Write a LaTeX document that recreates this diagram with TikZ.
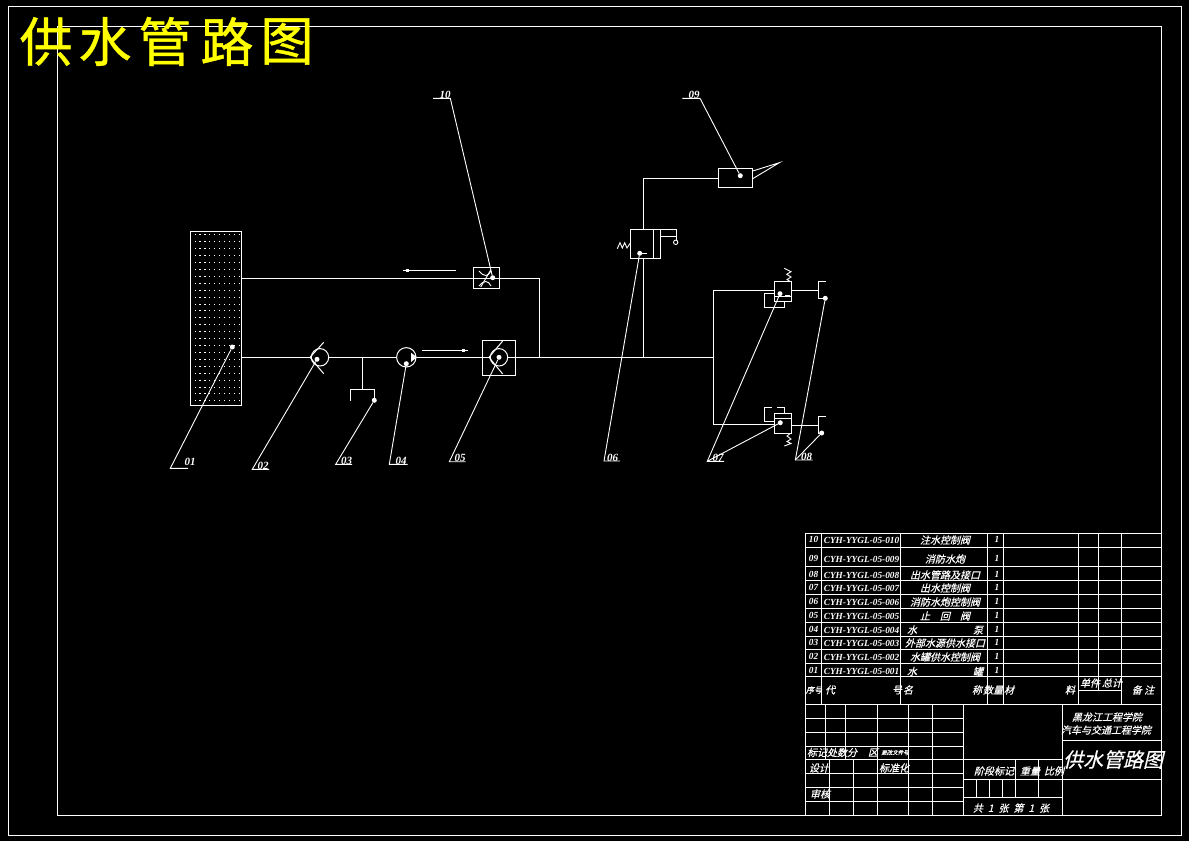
\documentclass[tikz,border=0pt]{standalone}
\usepackage{fontspec}
\setmainfont{Liberation Serif}
\newfontfamily\cjk[FakeBold=0.8]{Noto Sans CJK SC}
\newfontfamily\cjkit[FakeSlant=0.25,FakeBold=0.5]{Noto Sans CJK SC}
\definecolor{cadline}{RGB}{255,255,255}
\definecolor{cadtitle}{RGB}{255,255,0}
\tikzset{
  pipe/.style={draw=cadline, line width=1pt},
  leader/.style={draw=cadline, line width=0.9pt},
  tick/.style={circle, fill=cadline, inner sep=0pt, minimum size=5pt},
  numlabel/.style={text=cadline, font=\fontsize{11}{11}\selectfont\itshape\bfseries, inner sep=0pt, anchor=base},
  cell/.style={text=cadline, font=\cjkit\fontsize{10}{10}\selectfont, inner sep=0pt},
  code/.style={text=cadline, font=\fontsize{9.3}{9.3}\selectfont\itshape\bfseries, inner sep=0pt},
}
\begin{document}
\begin{tikzpicture}[x=1pt,y=-1pt]
\useasboundingbox[fill=black] (0,0) rectangle (1189,841);
% frames
\draw[pipe] (8.3,6) rectangle (1181.3,835);
\draw[pipe] (57.3,26.7) rectangle (1161.7,815.5);
\foreach \c/\x in {供/46,水/105,管/165,路/227,图/287}
  \node[text=cadtitle, font=\cjk\fontsize{53}{53}\selectfont, inner sep=0pt] (title\x) at (\x,41.5) {\c};
% tank
\draw[pipe] (190.3,231.3) rectangle (241.7,405.3);
\foreach \r in {0,...,24}
  \foreach \c in {0,...,9}
    \fill[cadline] ({194.5+4.9*\c},{234.3+6.92*\r}) rectangle +(1.2,1);
% pipes
\coordinate (tank0) at (241.7,357.3);
\coordinate (tank1) at (241.7,278.3);
\coordinate (tee0) at (539.7,278.3);
\coordinate (tee1) at (539.7,357.3);
\coordinate (tee2) at (643.3,357.3);
\coordinate (tee3) at (713.3,357.3);
\coordinate (tee4) at (362.3,357.3);
\draw[pipe] (tank1) -- (tee0) -- (tee1);
% valve 02
\coordinate (cv0) at (310,357.3);
\draw[pipe] (tank0) -- (cv0);
\node[circle, draw=cadline, line width=1pt, inner sep=0pt, minimum size=17.4pt] (cv1) at (320,357.3) {};
\draw[pipe] (323.7,342.3) -- (cv0) -- (323.7,373.7);
% drain 03
\coordinate (drain0) at (362.3,389.3);
\draw[pipe] (cv1) -- (tee4) -- (drain0);
\coordinate (drain1) at (374.3,400.3);
\draw[pipe] (350.3,401) -- (350.3,389.3) -- (374.3,389.3) -- (drain1);
% pump 04
\node[circle, draw=cadline, line width=1pt, inner sep=0pt, minimum size=19.4pt] (pump0) at (406.3,357.3) {};
\draw[pipe] (tee4) -- (pump0);
\fill[cadline] (411,352.7) -- (417,357.3) -- (411,362) -- cycle;
\coordinate (flow0) at (422,350.3);
\coordinate (flow1) at (468,350.3);
\draw[pipe] (flow0) -- (flow1);
\fill[cadline] (462,349) rectangle (465,351.6);
% valve 05
\draw[pipe] (482.3,340.3) rectangle (515.7,375.3);
\coordinate (cv2) at (489,357.3);
\node[circle, draw=cadline, line width=1pt, inner sep=0pt, minimum size=17.4pt] (cv3) at (499,357.3) {};
\draw[pipe] (502.7,341) -- (cv2) -- (502.7,374);
\draw[pipe] (pump0) -- (cv2);
\draw[pipe] (cv3) -- (tee3);
% valve 10
\draw[pipe] (473.3,267.3) rectangle (499.7,288.7);
\draw[leader] (479,271) .. controls (484,277) and (488,277) .. (491,271);
\draw[leader] (479,286) .. controls (484,280) and (488,280) .. (491,286);
\draw[leader] (490.7,270) -- (480.7,287);
\coordinate (flow2) at (456,270.3);
\coordinate (flow3) at (403.3,270.3);
\draw[pipe] (flow2) -- (flow3);
\fill[cadline] (406,269) rectangle (409,271.6);
% valve 06
\draw[pipe] (630.3,229.3) rectangle (660.7,258.7);
\draw[pipe] (653.3,229.3) -- (653.3,258.7);
\draw[pipe] (660.7,229.3) -- (676.7,229.3) -- (676.7,240);
\draw[pipe] (660.7,236.3) -- (676.7,236.3);
\draw[leader] (675.7,242.3) circle (2.2);
\draw[leader] (617.3,248.7) -- (620,242.7) -- (622.3,248) -- (624.7,242.7) -- (627,248) -- (630.3,243);
\draw[leader] (639.7,253.3) -- (646.7,253.3);
\draw[pipe] (643.3,178.3) -- (643.3,229.3);
\draw[pipe] (643.3,258.7) -- (tee2);
% nozzle 09
\draw[pipe] (718.3,168.3) rectangle (752.7,187.7);
\draw[pipe] (718.3,178.3) -- (643.3,178.3);
\draw[leader] (752.7,171) -- (779.3,162.7) -- (752.7,178.7);
% valves 07
\draw[pipe] (713.3,290.3) -- (713.3,424.3);
\draw[pipe] (713.3,290.3) -- (774.3,290.3);
\draw[pipe] (713.3,424.3) -- (774.3,424.3);
\draw[pipe] (774.3,281.3) rectangle (791.7,301.3);
\draw[pipe] (774.3,296.3) -- (791.7,296.3);
\draw[pipe] (774.3,293.3) -- (764.3,293.3) -- (764.3,307.3) -- (784.7,307.3) -- (784.7,301.3);
\draw[leader] (784.3,268.3) -- (791,271.7) -- (786.7,274.3) -- (791,277) -- (787,279.7) -- (790,281.3);
\draw[leader] (785,295) -- (790,295);
\draw[pipe] (774.3,413.3) rectangle (791.7,433.7);
\draw[pipe] (774.3,418.7) -- (791.7,418.7);
\draw[pipe] (774.3,421.7) -- (764.3,421.7) -- (764.3,407) -- (772,407);
\draw[pipe] (777.3,407) -- (784.7,407) -- (784.7,413.3);
\draw[leader] (790,433.7) -- (787,436) -- (791,439) -- (787,441.5) -- (791,443.5) -- (784.3,446);
% outlets 08
\draw[pipe] (791.7,290.3) -- (818.3,290.3);
\draw[pipe] (826,281.3) -- (818.3,281.3) -- (818.3,298.3) -- (826,298.3);
\draw[pipe] (791.7,425.3) -- (818.3,425.3);
\draw[pipe] (826,416.3) -- (818.3,416.3) -- (818.3,433) -- (821.7,433);
% leaders
\node[tick] (lead1) at (232.3,347) {};
\node[tick] (lead2) at (317,359.3) {};
\node[tick] (lead3) at (374.3,400.3) {};
\node[tick] (lead4) at (406.3,363.7) {};
\node[tick] (lead5) at (499,357.3) {};
\node[tick] (lead6) at (639.7,253.3) {};
\node[tick] (lead7) at (780,293.7) {};
\node[tick] (lead7b) at (780.3,422.7) {};
\node[tick] (lead8) at (825.3,298.3) {};
\node[tick] (lead8b) at (821.7,433) {};
\node[tick] (lead9) at (740.3,175.7) {};
\node[tick] (lead10) at (492.7,277.7) {};
\foreach \nm/\ax/\ay/\bx/\tx/\ty/\txt in {
  lead1/170.3/468.3/188/190/465/01,
  lead2/252.3/469.3/269/263/469/02,
  lead3/335.7/464.3/352/346.7/464/03,
  lead4/389.3/464.3/407.7/401/464/04,
  lead5/449.3/461.7/465.7/460/461/05,
  lead6/604/461/620/612.7/461/06,
  lead7/707.3/461.3/724/718/461/07,
  lead8/795.3/460/812.7/806.7/460/08,
  lead9/682.3/98.3/700/694/98/09,
  lead10/433/98.3/450.3/445/98/10}
{
  \coordinate (a\nm) at (\ax,\ay);
  \coordinate (b\nm) at (\bx,\ay);
  \node[numlabel] (t\nm) at (\tx,\ty) {\txt};
}
\draw[leader] (lead1) -- (alead1) -- (blead1);
\draw[leader] (lead2) -- (alead2) -- (blead2);
\draw[leader] (lead3) -- (alead3) -- (blead3);
\draw[leader] (lead4) -- (alead4) -- (blead4);
\draw[leader] (lead5) -- (alead5) -- (blead5);
\draw[leader] (lead6) -- (alead6) -- (blead6);
\draw[leader] (lead7) -- (alead7) -- (blead7);
\draw[leader] (lead7b) -- (alead7);
\draw[leader] (lead8) -- (alead8) -- (blead8);
\draw[leader] (lead8b) -- (alead8);
\draw[leader] (lead9) -- (blead9) -- (alead9);
\draw[leader] (lead10) -- (blead10) -- (alead10);
% parts table
\draw[pipe] (805.7,533.3) rectangle (1161.7,815.5);
\foreach \y in {547.3,566.7,580.7,594.7,608.3,622,636,649.7,663.7,676.3,704.3}
  \draw[pipe] (805.7,\y) -- (1161.7,\y);
\foreach \x in {821.7,900.7,987.7,1003.3,1078.3,1121.7}
  \draw[pipe] (\x,533.3) -- (\x,704.3);
\draw[pipe] (1098.7,533.3) -- (1098.7,690.3);
\draw[pipe] (1078.3,690.3) -- (1121.7,690.3);
\foreach \n/\y/\nm in {
  10/540/注水控制阀,
  09/559/消防水炮,
  08/575/出水管路及接口,
  07/588/出水控制阀,
  06/602/消防水炮控制阀,
  05/616/止\quad 回\quad 阀,
  04/630/水\hspace{5.6em}泵,
  03/643/外部水源供水接口,
  02/657/水罐供水控制阀,
  01/671.5/水\hspace{5.6em}罐}
{
  \node[code] (rn\n) at (813.5,\y-1) {\n};
  \node[code] (rc\n) at (861.5,\y) {CYH-YYGL-05-0\ifnum\n=10 10\else\n\fi};
  \node[cell] (rm\n) at (945,\y) {\nm};
  \node[code] (rq\n) at (997,\y-1) {1};
}
\node[cell, font=\cjkit\fontsize{8}{8}\selectfont] (hd0) at (814,690) {序号};
\node[cell] (hd1) at (830,690) {代};
\node[cell] (hd2) at (897,690) {号};
\node[cell] (hd3) at (908,690) {名};
\node[cell] (hd4) at (977,690) {称};
\node[cell] (hd5) at (993,690) {数量};
\node[cell] (hd6) at (1009,690) {材};
\node[cell] (hd7) at (1070,690) {料};
\node[cell] (hd8) at (1090,683) {单件};
\node[cell] (hd9) at (1112,683) {总计};
\node[cell] (hd10) at (1143,690) {备\ 注};
% title block
\foreach \y in {718.3,732.3,746.3,759.3,773.3,787.3,801.3}
  \draw[pipe] (805.7,\y) -- (963.3,\y);
\foreach \x in {825.3,845.3}
  \draw[pipe] (\x,704.3) -- (\x,759.3);
\foreach \x in {829.3,853.3}
  \draw[pipe] (\x,759.3) -- (\x,815.5);
\foreach \x in {877.3,908.3,932.3,963.3}
  \draw[pipe] (\x,704.3) -- (\x,815.5);
\draw[pipe] (1062.3,704.3) -- (1062.3,815.5);
\draw[pipe] (963.3,759.3) -- (1062.3,759.3);
\draw[pipe] (963.3,779.3) -- (1161.7,779.3);
\draw[pipe] (963.3,797.3) -- (1062.3,797.3);
\draw[pipe] (1062.3,740) -- (1161.7,740);
\foreach \x in {976.3,989.3,1002.3}
  \draw[pipe] (\x,779.3) -- (\x,797.3);
\foreach \x in {1015.3,1038.3}
  \draw[pipe] (\x,759.3) -- (\x,797.3);
\node[cell] (tb0) at (1107,717) {黑龙江工程学院};
\node[cell] (tb1) at (1106,730) {汽车与交通工程学院};
\node[text=cadline, font=\cjkit\fontsize{20}{20}\selectfont, inner sep=0pt] (tb2) at (1113,759.5) {供水管路图};
\node[cell] (tb3) at (832,752.5) {标记处数分};
\node[cell] (tb3b) at (873,752.5) {区};
\node[text=cadline, font=\cjkit\fontsize{5.5}{5.5}\selectfont, inner sep=0pt] (tb4) at (895,752.5) {更改文件号};
\node[cell] (tb5) at (819,768) {设计};
\node[cell] (tb6) at (894,768) {标准化};
\node[cell] (tb7) at (820,794) {审核};
\node[cell] (tb8) at (994,771) {阶段标记};
\node[cell] (tb9) at (1030,771) {重量};
\node[cell] (tb10) at (1054,771) {比例};
\node[cell] (tb11) at (1011,808) {共\enspace 1\enspace 张\enspace 第\enspace 1\enspace 张};
\end{tikzpicture}
\end{document}
